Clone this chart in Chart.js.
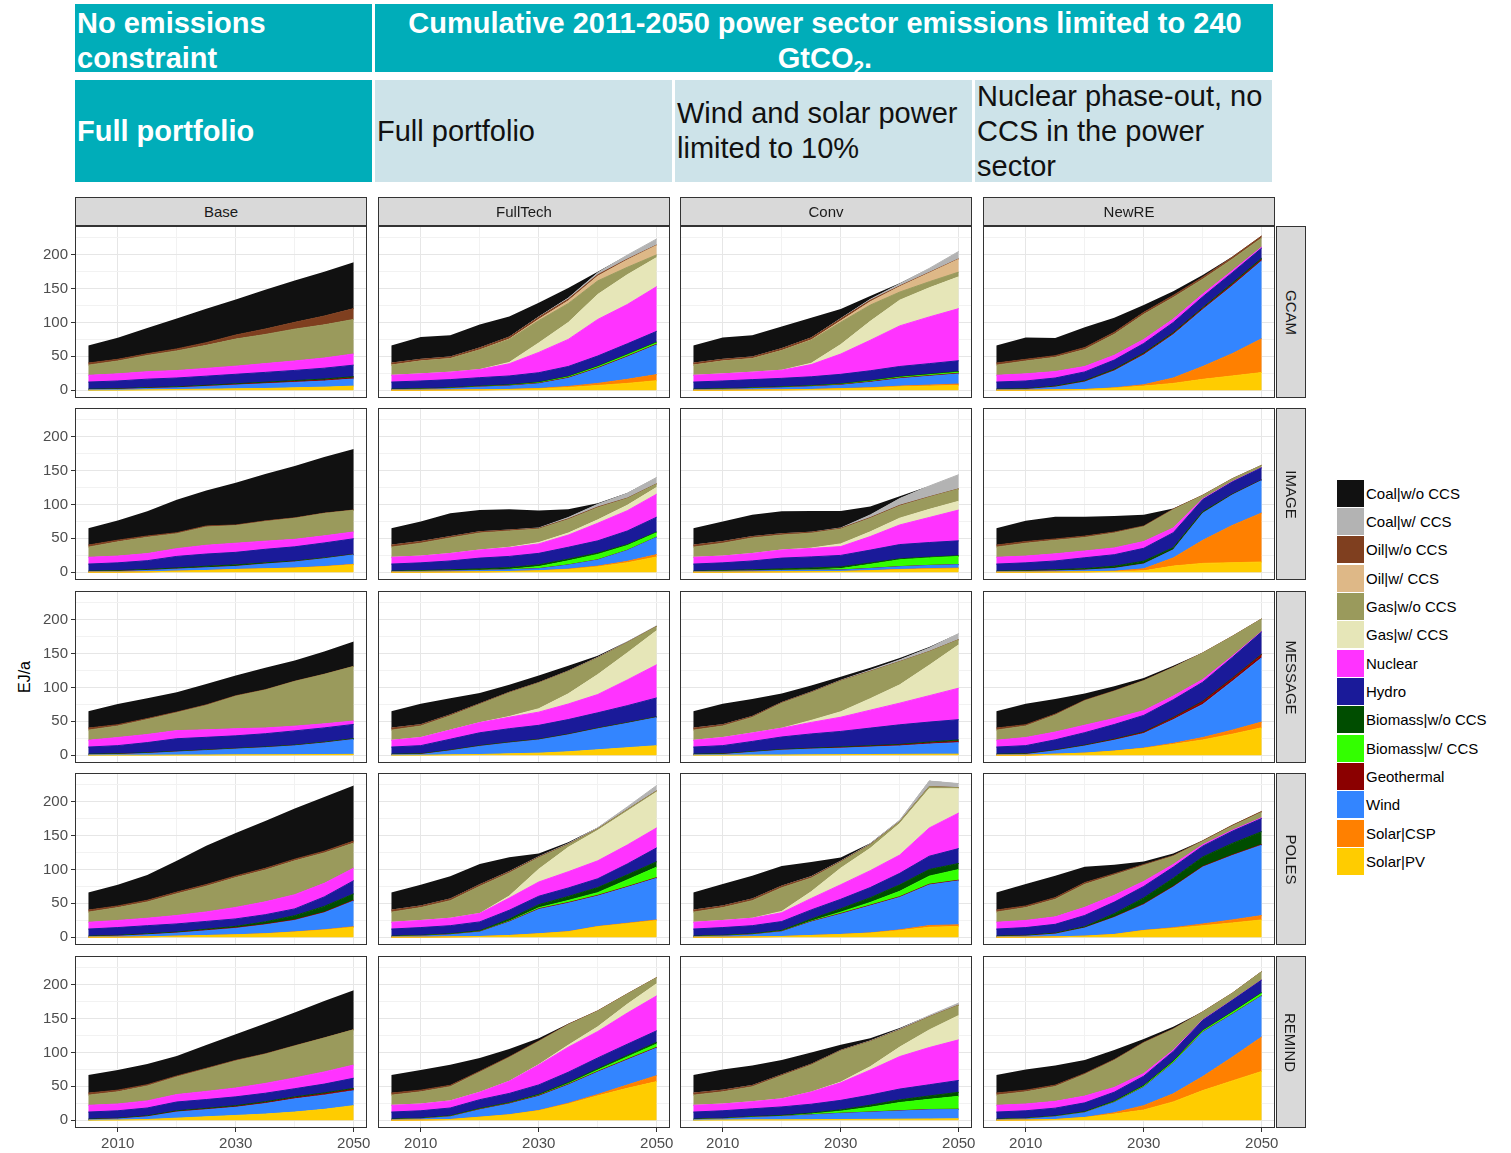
<!DOCTYPE html>
<html>
<head>
<meta charset="utf-8">
<script src="https://cdn.jsdelivr.net/npm/chart.js@4.4.1/dist/chart.umd.min.js"></script>
<style>
  body { margin: 0; width: 1511px; height: 1153px; background: #fff; position: relative; overflow: hidden;
         font-family: "Liberation Sans", Arial, sans-serif; }
  canvas { position: absolute; }
  .hd { position: absolute; box-sizing: border-box; font-size: 29px; padding-left: 2px; white-space: nowrap; line-height: 35px; }
  .teal { background: #00ADB9; color: #fff; font-weight: bold; }
  .light { background: #CDE3E9; color: #111; }
  .mid { display: flex; align-items: center; }
  .hd sub { font-size: 19px; line-height: 0; vertical-align: -6px; }
  .strip { position: absolute; box-sizing: border-box; background: #D9D9D9; border: 1px solid #333;
           color: #1A1A1A; font-size: 15px; display: flex; align-items: center; justify-content: center; }
  .vtxt { transform: rotate(90deg); white-space: nowrap; }
  .key { position: absolute; width: 27px; height: 27px; }
  .lab { position: absolute; font-size: 15px; color: #000; line-height: 27px; white-space: nowrap; }
</style>
</head>
<body>
<div class="hd teal" style="left:75px;top:4px;width:297px;height:68px;padding-top:2px">No emissions<br>constraint</div>
<div class="hd teal" style="left:375px;top:4px;width:898px;height:68px;padding-top:2px;text-align:center">Cumulative 2011-2050 power sector emissions limited to 240<br>GtCO<sub>2</sub>.</div>
<div class="hd teal mid" style="left:75px;top:80px;width:297px;height:102px">Full portfolio</div>
<div class="hd light mid" style="left:375px;top:80px;width:297px;height:102px">Full portfolio</div>
<div class="hd light mid" style="left:675px;top:80px;width:297px;height:102px">Wind and solar power<br>limited to 10%</div>
<div class="hd light mid" style="left:975px;top:80px;width:297px;height:102px">Nuclear phase-out, no<br>CCS in the power<br>sector</div>
<div style="position:absolute;left:25px;top:677px;transform:translate(-50%,-50%) rotate(-90deg);font-size:16px;color:#000">EJ/a</div>

<script>
const YEARS = [2005, 2010, 2015, 2020, 2025, 2030, 2035, 2040, 2045, 2050];
const SERIES = ['Coal|w/o CCS', 'Coal|w/ CCS', 'Oil|w/o CCS', 'Oil|w/ CCS', 'Gas|w/o CCS', 'Gas|w/ CCS',
  'Nuclear', 'Hydro', 'Biomass|w/o CCS', 'Biomass|w/ CCS', 'Geothermal', 'Wind', 'Solar|CSP', 'Solar|PV'];
const COLORS = ['#111111', '#B3B3B3', '#7F3F1F', '#DEB887', '#9A9A5C', '#E6E6B8',
  '#FF33FF', '#1A1A99', '#004D00', '#33FF00', '#8B0000', '#3385FF', '#FF8000', '#FFCC00'];
const SCENARIOS = ['Base', 'FullTech', 'Conv', 'NewRE'];
const MODELS = ['GCAM', 'IMAGE', 'MESSAGE', 'POLES', 'REMIND'];
const X_LABELS = [2010, 2030, 2050];
const Y_LABELS = [0, 50, 100, 150, 200];
const Z = [0, 0, 0, 0, 0, 0, 0, 0, 0, 0];

// rows follow SERIES order: coal, coal ccs, oil, oil ccs, gas, gas ccs, nuclear, hydro, bio, bio ccs, geo, wind, csp, pv
const GCAM_Base = [
  [26, 32, 38, 45, 50, 52.5, 58, 62, 65.5, 68.5], Z,
  [3, 2.5, 2.5, 3, 4, 6, 8, 10, 13, 16], Z,
  [15, 19, 24, 29, 34, 40, 43, 47, 49, 51], Z,
  [10, 10.5, 11, 11, 11.5, 12, 13, 14, 15, 16.5],
  [10.5, 11.5, 12.5, 13, 13.5, 14, 14.5, 15, 16, 17],
  [0.7, 0.8, 0.9, 1, 1.1, 1.2, 1.3, 1.5, 1.6, 1.8], Z,
  [0.3, 0.3, 0.4, 0.5, 0.6, 0.8, 1, 1.2, 1.4, 1.7],
  [0.5, 1, 2, 2.5, 4, 5.5, 7, 8, 9, 10.5], Z,
  [0, 0, 0.5, 1, 1.5, 2, 2.5, 3.5, 4.5, 6]];
const GCAM_FullTech = [
  [26, 33, 32, 34.5, 30.5, 21, 15, 1.5, 0, 0],
  [0, 0, 0, 0, 0, 0.5, 1.5, 3, 6, 9],
  [3, 2.5, 2.5, 3, 3, 3, 2.5, 2, 1, 0.5],
  [0, 0, 0, 0, 0.5, 2, 4, 7, 11, 14],
  [15, 19, 20, 29, 34, 33, 28, 20, 11, 4],
  [0, 0, 0, 0, 2, 14, 25, 37, 44, 43],
  [10, 10.5, 11, 12, 18, 30, 40, 54, 58, 66],
  [10.5, 11.5, 12, 12.5, 13, 14, 14.5, 15, 15.5, 16],
  [0.7, 0.8, 0.9, 1, 1, 1, 1, 1, 1, 1],
  [0, 0, 0, 0, 0.2, 0.5, 1, 1.5, 2, 2],
  [0.3, 0.3, 0.4, 0.5, 0.6, 0.8, 1, 1, 1, 1],
  [0.5, 1, 2, 4, 5, 7, 12, 22, 33, 44],
  [0, 0, 0, 0, 0.2, 0.5, 1.5, 3, 6, 9],
  [0, 0, 0.3, 0.5, 1, 2, 4, 7, 10, 14]];
const GCAM_Conv = [
  [26, 32.4, 31.9, 32.5, 29.7, 14, 5, 1, 0, 0],
  [0, 0, 0, 0, 0, 0.5, 1.5, 3, 6, 11],
  [3, 2.5, 2.5, 3, 3, 3, 2, 1, 0.7, 0.5],
  [0, 0, 0, 0, 0.5, 2, 5, 8, 13, 19],
  [15, 19, 20, 29, 34, 33, 24, 12, 9, 7],
  [0, 0, 0, 0, 2, 14, 28, 38, 43, 47],
  [10, 10.5, 11, 12, 18, 30, 45, 60, 69, 77],
  [10.5, 11.5, 12, 12.5, 13, 14, 14.5, 15, 15.5, 16],
  [0.7, 0.8, 0.9, 1, 1, 1, 1, 1, 1, 1],
  [0, 0, 0, 0, 0.1, 0.3, 0.6, 1, 1.2, 1.5],
  [0.3, 0.3, 0.4, 0.5, 0.6, 0.8, 1, 1, 1, 1],
  [0.5, 1, 2, 3, 4, 5, 8, 11, 13, 15],
  [0, 0, 0, 0, 0.1, 0.3, 0.6, 1, 1.5, 2],
  [0, 0, 0.3, 0.5, 1, 2, 3, 5, 6, 7]];
const GCAM_NewRE = [
  [26, 32.4, 26, 30, 21.5, 11, 6, 3, 0.5, 0], Z,
  [3, 2.5, 2.5, 3, 3, 3, 3, 3, 3, 3], Z,
  [15, 19, 21, 25, 31, 37, 32, 22, 17, 13.5], Z,
  [10, 10.5, 9.5, 8, 7, 6, 5, 4, 3, 1.5],
  [10.5, 11.5, 12, 13, 13.5, 14, 15, 16, 15.5, 15],
  [0.7, 0.8, 1, 1.3, 1.5, 1.5, 1.5, 1.5, 2, 2], Z,
  [0.3, 0.3, 0.5, 0.7, 1, 1.5, 1.5, 1.5, 2, 2],
  [0.5, 1, 4, 11, 25, 44, 64, 84, 100, 115],
  [0, 0, 0, 0, 0.5, 2, 8, 19, 33, 50],
  [0, 0, 0.5, 1, 3, 6, 10, 16, 21, 26]];

const IMAGE_Base = [
  [25, 29.2, 36.5, 48.7, 52.2, 62.2, 69.2, 76.7, 82.7, 90.1], Z,
  [3, 2.5, 2, 1.5, 1.5, 1, 1, 0.8, 0.6, 0.5], Z,
  [15, 21, 24, 22, 27, 26, 29, 31, 33, 32], Z,
  [10, 10, 10.5, 11.5, 13, 13.5, 12, 11, 10.5, 10],
  [10.5, 11.5, 13, 17, 18, 18.5, 20, 21, 22, 23],
  [0.7, 1, 1.2, 1.5, 2, 2, 1.5, 1, 1, 0.5], Z,
  [0.3, 0.3, 0.3, 0.3, 0.3, 0.3, 0.3, 0.3, 0.3, 0.3],
  [0.5, 1, 2, 3, 4, 4.5, 7, 9, 11.5, 14],
  [0, 0, 0, 0, 0, 0, 0, 0.2, 0.4, 0.6],
  [0, 0, 0.5, 1.5, 2.5, 4, 5, 6, 8, 11]];
const IMAGE_FullTech = [
  [25, 29.7, 34.4, 32.2, 30.7, 25.7, 12.2, 1.7, 0.5, 0],
  [0, 0, 0, 0, 0, 0.5, 2, 4, 7, 9.5],
  [3, 2.5, 2, 2, 1.5, 1, 1, 1, 0.5, 0.3], Z,
  [15, 19, 23, 25, 24, 20, 20, 18, 10, 5],
  [0, 0, 0, 0, 0.5, 2, 3, 5, 8, 10],
  [10, 10, 11, 12, 13, 14, 18, 26, 30, 34],
  [10.5, 11.5, 13, 16, 16.5, 17, 17.5, 18, 20, 22],
  [0.7, 1, 1.5, 2, 2.5, 2.5, 2.5, 2, 1.5, 1],
  [0, 0, 0, 0, 0.5, 3, 6, 8, 7, 6.5],
  [0.3, 0.3, 0.3, 0.3, 0.3, 0.3, 0.3, 0.3, 0.3, 0.3],
  [0.5, 1, 1.5, 2, 2.5, 3, 6, 9, 16, 25.5],
  [0, 0, 0, 0, 0, 0, 0.5, 1, 2, 3.5],
  [0, 0, 0.3, 0.5, 1, 2, 4, 8, 14, 22.5]];
const IMAGE_Conv = [
  [25, 29.7, 32.4, 33.2, 31.4, 25.2, 12.4, 3.2, 0, 0],
  [0, 0, 0, 0, 0, 0.5, 4, 10, 16, 21],
  [3, 2.5, 2, 2, 1.5, 1, 1, 1, 0.5, 0.3], Z,
  [15, 19, 23, 22, 22, 22, 20, 18, 18, 18],
  [0, 0, 0, 0, 0.5, 4, 7, 10, 12, 13],
  [10, 10, 11, 12, 12.5, 13, 20, 29, 37, 45.5],
  [10.5, 11.5, 13, 16, 16.5, 17, 19, 21, 21.5, 22],
  [0.7, 1, 1.5, 2, 2.5, 2.5, 2, 1.5, 1.2, 1],
  [0, 0, 0, 0, 0.5, 2, 6, 10, 11, 12],
  [0.3, 0.3, 0.3, 0.3, 0.3, 0.3, 0.3, 0.3, 0.3, 0.3],
  [0.5, 1, 1.5, 2, 2, 2, 3, 4, 4.5, 5],
  [0, 0, 0, 0, 0, 0, 0.3, 0.5, 0.8, 1],
  [0, 0, 0.3, 0.5, 0.8, 1, 2, 3.5, 4.5, 5]];
const IMAGE_NewRE = [
  [25, 30.7, 32.9, 28.7, 23.7, 16.7, 0.7, 0, 0, 0], Z,
  [3, 2.5, 2, 2, 1.5, 1, 1, 0.5, 0.3, 0.2], Z,
  [15, 19, 20, 20, 22, 22, 27, 5, 4, 3.5], Z,
  [10, 10, 10.5, 10, 10, 10, 7, 1, 0.5, 0],
  [10.5, 11.5, 13, 16, 17, 19, 22, 18, 18, 18],
  [0.7, 1, 1.5, 2, 3, 4, 3, 2, 1, 0.5], Z,
  [0.3, 0.3, 0.3, 0.3, 0.3, 0.3, 0.3, 0.3, 0.3, 0.3],
  [0.5, 1, 1.5, 2.5, 4, 7, 12, 40, 45, 48],
  [0, 0, 0, 0, 0.5, 3, 12, 34, 55, 72.5],
  [0, 0, 0.3, 0.5, 1, 2, 9, 13, 14, 15]];

const MESSAGE_Base = [
  [25, 30.4, 29.9, 29.2, 30.6, 29.7, 32.2, 30.6, 33.3, 36.7], Z,
  [3, 2, 1.5, 1, 1, 0.8, 0.6, 0.5, 0.4, 0.3], Z,
  [15, 17, 22, 26.5, 36, 48, 56, 66, 73, 80.5], Z,
  [10, 12, 12, 12, 11, 10.5, 8.5, 7, 6, 5],
  [10.5, 12, 15, 18.5, 18.5, 18.5, 19.5, 21, 21, 21],
  [0.7, 0.8, 0.8, 0.8, 0.8, 0.8, 0.8, 0.8, 1, 1], Z,
  [0.3, 0.3, 0.3, 0.3, 0.3, 0.3, 0.3, 0.3, 0.3, 0.3],
  [0.5, 1, 2.5, 4.5, 6.5, 8.5, 10.5, 13, 17, 22], Z,
  [0, 0, 0, 0.2, 0.3, 0.5, 0.6, 0.8, 1, 1.2]];
const MESSAGE_FullTech = [
  [25, 30.9, 24.4, 15.9, 11.1, 10.4, 7.6, 2.5, 0.9, 0],
  [0, 0, 0, 0, 0, 0, 0.3, 0.5, 0.7, 1],
  [3, 2, 1.5, 1, 0.8, 0.6, 0.5, 0.4, 0.3, 0.2], Z,
  [15, 17, 21, 27, 35, 38, 33, 24.5, 15, 6],
  [0, 0, 0, 0, 1, 5, 15, 29.5, 40, 50.5],
  [10, 12, 13.5, 15, 17, 19.5, 23, 27, 38, 49],
  [10.5, 12, 16, 19, 20, 20.5, 21.5, 22.5, 25, 28],
  [0.7, 0.8, 0.8, 0.8, 0.8, 0.8, 0.8, 0.8, 0.8, 0.8], Z,
  [0.3, 0.3, 0.3, 0.3, 0.3, 0.3, 0.3, 0.3, 0.3, 0.3],
  [0.5, 1, 6, 12, 16, 19.5, 25, 31, 36, 41.5], Z,
  [0, 0, 0.5, 1, 2, 3, 5, 8, 11, 14]];
const MESSAGE_Conv = [
  [25, 30.9, 25.7, 13.1, 9.5, 5, 3.5, 2.8, 1.8, 0],
  [0, 0, 0, 0, 0.3, 0.5, 1.5, 2.5, 5, 9],
  [3, 2, 1.5, 1, 0.8, 0.6, 0.5, 0.4, 0.3, 0.2], Z,
  [15, 17, 23, 37, 41, 45.5, 40, 34, 20, 7.5],
  [0, 0, 0, 0, 3, 8, 17, 27, 45, 64],
  [10, 12, 12.5, 13, 17, 21, 26.5, 32, 39, 46.5],
  [10.5, 12, 15, 18.5, 21, 23, 26, 29, 29.5, 30],
  [0.7, 0.8, 0.8, 0.8, 0.9, 1, 1, 1, 1.5, 2], Z,
  [0.3, 0.3, 0.3, 0.3, 0.5, 0.8, 1, 1.2, 1.5, 2],
  [0.5, 1, 4, 7, 8.5, 9.5, 11, 12.5, 15, 17], Z,
  [0, 0, 0.2, 0.3, 0.5, 0.8, 1, 1.2, 1.4, 1.5]];
const MESSAGE_NewRE = [
  [25, 30.9, 22.3, 9.7, 6.9, 3.6, 2.2, 0, 0, 0], Z,
  [3, 2, 1.5, 1, 0.8, 0.6, 0.5, 0.4, 0.3, 0.2], Z,
  [15, 17, 25, 36, 40, 44, 42, 39, 29, 18.5], Z,
  [10, 12, 11.5, 11, 9, 7, 5.5, 4, 2, 0.5],
  [10.5, 12, 15, 18.5, 21.5, 24.5, 26, 28, 30.5, 33],
  [0.7, 0.8, 0.8, 0.8, 0.8, 0.8, 0.8, 0.8, 0.8, 0.8], Z,
  [0.3, 0.3, 0.4, 0.5, 1, 1.5, 2.5, 4, 4, 4.5],
  [0.5, 1, 5, 10.5, 16, 21.5, 35, 49, 72, 95],
  [0, 0, 0, 0, 0, 0.5, 1.5, 3.5, 6, 8.5],
  [0, 0, 1.5, 3, 6, 10, 16, 22.5, 31, 40.5]];

const POLES_Base = [
  [26, 31.3, 37.5, 46.4, 57.2, 63.5, 69.9, 74.7, 80, 82], Z,
  [3, 2.5, 2.5, 2.5, 2.5, 2.5, 2.5, 2.5, 2.5, 3], Z,
  [15, 19, 24, 32, 38, 44, 47, 50, 45, 37], Z,
  [10, 10.5, 11, 12.5, 14, 17, 19, 21, 20, 18.5],
  [10.5, 11.5, 12, 12, 11.5, 11, 10.5, 10, 14, 19.5],
  [0.7, 0.8, 1, 1, 1.5, 2, 3.5, 6, 8.5, 9.5], Z,
  [0.3, 0.4, 0.5, 0.6, 0.8, 1, 1, 1, 1, 1],
  [0.5, 1.5, 3, 4.5, 7, 9.5, 13, 17, 25, 38],
  [0, 0, 0, 0, 0, 0, 0.2, 0.3, 0.5, 1],
  [0, 0, 0.5, 1.5, 2.5, 3.5, 5, 7.5, 10.5, 14.5]];
const POLES_FullTech = [
  [26, 31.3, 33.5, 30.4, 21, 4.5, 2, 0.4, 0, 0],
  [0, 0, 0, 0, 0.2, 0.5, 1, 1.5, 4, 8],
  [3, 2.5, 2.5, 2.5, 2, 1, 0.5, 0.3, 0.3, 0.2], Z,
  [15, 19, 26, 40, 34, 17, 4, 2, 2, 1.5],
  [0, 0, 0, 0, 3, 19, 36, 45, 50, 53],
  [10, 10.5, 11, 12.5, 18, 21, 24, 26.5, 28, 29.5],
  [10.5, 11.5, 12, 13, 13, 12.5, 12.5, 13, 16, 20.5],
  [0.7, 0.8, 1, 1.5, 3, 4.5, 6, 7.5, 7.5, 8],
  [0, 0, 0, 0, 0.5, 1.5, 3, 4, 10, 15.5],
  [0.3, 0.4, 0.5, 0.6, 0.8, 1, 1, 1, 1, 1],
  [0.5, 1.5, 3, 6.5, 20, 36, 42, 45, 53, 61.5],
  [0, 0, 0, 0, 0, 0, 0.2, 0.3, 0.6, 1],
  [0, 0, 0.5, 1, 2.5, 5, 8, 15.5, 20, 24.5]];
const POLES_Conv = [
  [26, 32.2, 34.2, 29.4, 21.4, 5.1, 1, 0.5, 0.4, 0],
  [0, 0, 0, 0, 0.3, 0.5, 1, 2, 8, 6],
  [3, 2.5, 2.5, 2.5, 2, 1, 0.5, 0.3, 0.3, 0.2], Z,
  [15, 19, 26, 35, 20, 9, 5, 2.5, 3, 1.5],
  [0, 0, 0, 2, 10, 24.5, 33, 46.6, 58, 35.8],
  [10, 10.5, 11, 13, 17, 21.5, 25, 27, 41.7, 52.5],
  [10.5, 11.5, 12, 13, 13.5, 14, 15, 17, 19.6, 22],
  [0.7, 0.8, 1, 1.5, 3, 5, 7, 9.5, 9.8, 9],
  [0, 0, 0, 0, 0.5, 2, 4, 8, 12, 15.7],
  [0.3, 0.4, 0.5, 0.6, 0.8, 1, 1, 1, 1, 1],
  [0.5, 1.5, 3, 7, 20, 30, 40, 48, 60, 65],
  [0, 0, 0, 0, 0, 0, 0.3, 1, 2.5, 2.5],
  [0, 0, 0.5, 1, 2.5, 4, 6, 9.8, 14.7, 15.7]];
const POLES_NewRE = [
  [26, 32.2, 32.2, 23.4, 13.2, 4.4, 3, 0.5, 0.5, 0], Z,
  [3, 2.5, 2.5, 2.5, 2, 1.5, 1, 1, 1.2, 1.5], Z,
  [15, 19, 26, 34, 30, 23.5, 12, 5, 6, 8], Z,
  [10, 10.5, 11, 12, 10, 7.4, 4, 2, 1.5, 1],
  [10.5, 11.5, 13, 16.5, 17, 17, 16.5, 16, 18, 19.5],
  [0.7, 0.8, 1, 1.5, 5, 9, 12, 14, 17, 19], Z,
  [0.3, 0.4, 0.5, 0.6, 0.8, 1, 1, 1, 1, 1],
  [0.5, 1.5, 4, 12, 25, 38, 60, 84, 95, 104],
  [0, 0, 0, 0, 0, 0.2, 1, 2.5, 4.5, 6.4],
  [0, 0, 0.5, 1.5, 4, 9.8, 13, 17, 21, 25.5]];

const REMIND_Base = [
  [26.8, 29.6, 30.5, 29.6, 34.3, 38.5, 44.9, 48.9, 54.3, 58.2], Z,
  [3, 2.5, 2, 1.5, 1.2, 1, 0.8, 0.6, 0.4, 0.3], Z,
  [15, 18, 22, 26, 33, 40, 43, 47, 50, 52], Z,
  [10, 10, 10.5, 11, 12, 13, 14.5, 16, 18, 19.5],
  [10.5, 11, 11.5, 13, 13, 13, 12.5, 12, 13, 15],
  [0.7, 0.8, 1, 1.2, 1.2, 1.5, 1.6, 1.5, 1.5, 1.5], Z,
  [0.3, 0.3, 0.5, 0.7, 0.8, 1, 1.2, 1.5, 1.8, 2],
  [0.5, 1.5, 4, 9, 10.5, 12, 15.5, 19.5, 21, 22], Z,
  [0, 0.3, 1, 3, 5, 7, 9, 12, 16, 21.5]];
const REMIND_FullTech = [
  [26.8, 29.6, 30.5, 19.7, 11.3, 3.9, 1, 0, 0, 0], Z,
  [3, 2.5, 2, 1.5, 1.2, 1, 0.8, 0.6, 0.4, 0.3], Z,
  [15, 18, 21, 29.5, 35, 34, 30, 23, 15, 8.8],
  [0, 0, 0, 0, 0, 0.5, 3, 7, 13, 18],
  [10, 10, 10.5, 11, 18, 29.5, 37, 39, 46, 51.6],
  [10.5, 11, 11.5, 13, 13.5, 14, 15, 16, 16.5, 17],
  [0.7, 0.8, 1, 1.2, 1.2, 1.5, 1.8, 2, 2.2, 2.5],
  [0, 0, 0, 0, 0, 0.3, 1, 2, 3.5, 5],
  [0.3, 0.3, 0.5, 0.7, 0.8, 1, 1, 1, 1, 1],
  [0.5, 1.5, 4, 11, 16, 21, 27, 33, 37, 40.8],
  [0, 0, 0, 0, 0, 0.3, 1, 2, 5, 8.8],
  [0, 0.3, 1, 4.4, 8, 14, 24, 36, 47, 57]];
const REMIND_Conv = [
  [26.8, 30.3, 29.3, 21.9, 17.2, 8.2, 3.8, 1.5, 0, 0],
  [0, 0, 0, 0, 0, 0.2, 0.5, 1, 2, 3],
  [3, 2.5, 2, 1.5, 1.2, 0.8, 0.6, 0.5, 0.4, 0.3], Z,
  [15, 18, 22, 34, 40, 46, 37, 25, 19, 15],
  [0, 0, 0, 0, 0, 1, 5, 14, 26, 36],
  [10, 10, 10.5, 12, 18, 26, 37, 48, 55, 60],
  [10.5, 11, 11.5, 12.5, 13, 14, 15, 16, 16.5, 17.5],
  [0.7, 0.8, 1, 1.3, 1.5, 2, 3, 4, 5, 6],
  [0, 0, 0, 0, 1, 3, 7, 12, 15, 19],
  [0.3, 0.3, 0.3, 0.3, 0.3, 0.3, 0.4, 0.5, 0.5, 0.5],
  [0.5, 1.5, 3.5, 5, 7, 9, 10.5, 12, 13.5, 13.7], Z,
  [0, 0.3, 0.5, 0.5, 0.8, 1, 1.2, 1.5, 1.8, 2]];
const REMIND_NewRE = [
  [26.8, 30.3, 28.8, 19.9, 14.1, 5, 3, 0, 0, 0], Z,
  [3, 2.5, 2, 1.5, 1.2, 1, 0.8, 0.5, 0.3, 0.2], Z,
  [15, 18, 22, 32, 40, 45, 30.7, 11.5, 10, 12.3], Z,
  [10, 10, 10, 10, 7, 4, 2, 0.5, 0.3, 0],
  [10.5, 11, 11.5, 13, 13, 13.5, 14, 15, 17, 18.7],
  [0.7, 0.8, 1, 1.3, 1.5, 1.5, 1.5, 1, 1, 1],
  [0, 0, 0, 0, 0.5, 1, 1.5, 1.5, 2.5, 3.4],
  [0.3, 0.3, 0.3, 0.3, 0.4, 0.5, 0.5, 0.5, 0.5, 0.5],
  [0.5, 1.5, 4, 7, 15, 27, 45, 65.3, 63, 60.5],
  [0, 0, 0, 0, 2, 6.5, 12, 20.7, 35, 51],
  [0, 0.3, 1, 4, 9, 15, 27, 43.7, 58, 72]];

const PANELS = {
  GCAM: [GCAM_Base, GCAM_FullTech, GCAM_Conv, GCAM_NewRE],
  IMAGE: [IMAGE_Base, IMAGE_FullTech, IMAGE_Conv, IMAGE_NewRE],
  MESSAGE: [MESSAGE_Base, MESSAGE_FullTech, MESSAGE_Conv, MESSAGE_NewRE],
  POLES: [POLES_Base, POLES_FullTech, POLES_Conv, POLES_NewRE],
  REMIND: [REMIND_Base, REMIND_FullTech, REMIND_Conv, REMIND_NewRE]
};

// layout of the facet grid
const PX = [75, 378, 680, 983], PY = [226, 408, 591, 773, 956];
const PW = 292, PH = 172;
const MAJOR = '#E6E6E6', MINOR = '#F2F2F2';
const tickFont = { family: 'Liberation Sans', size: 15 };

const panelBorder = {
  id: 'panelBorder',
  afterDraw(chart) {
    const a = chart.chartArea, c = chart.ctx;
    c.save();
    c.strokeStyle = '#333';
    c.lineWidth = 1;
    c.strokeRect(a.left + 0.5, a.top + 0.5, a.right - a.left - 1, a.bottom - a.top - 1);
    c.restore();
  }
};

function makePanel(row, col, rows) {
  const isLeft = col === 0, isBottom = row === MODELS.length - 1;
  const L = isLeft ? 52 : 10, R = 12, T = 6, B = isBottom ? 32 : 6;
  const cv = document.createElement('canvas');
  cv.width = L + PW + R;
  cv.height = T + PH + B;
  cv.style.left = (PX[col] - L) + 'px';
  cv.style.top = (PY[row] - T) + 'px';
  document.body.appendChild(cv);

  // bottom of the stack first: Solar|PV ... Coal|w/o CCS
  const datasets = [];
  for (let k = SERIES.length - 1; k >= 0; k--) {
    const vals = rows[k];
    const empty = vals.every(v => v === 0);
    datasets.push({
      label: SERIES[k],
      data: YEARS.map((yr, i) => ({ x: yr, y: vals[i] })),
      backgroundColor: COLORS[k],
      borderColor: empty ? 'rgba(0,0,0,0)' : COLORS[k],
      borderWidth: k === 0 ? 0 : 1,
      fill: datasets.length ? '-1' : 'origin',
      pointRadius: 0,
      tension: 0
    });
  }

  new Chart(cv, {
    type: 'line',
    data: { datasets },
    plugins: [panelBorder],
    options: {
      responsive: false,
      animation: false,
      events: [],
      layout: { autoPadding: false, padding: { left: isLeft ? 0 : L, right: R, top: T, bottom: isBottom ? 0 : B } },
      plugins: { legend: { display: false }, tooltip: { enabled: false } },
      scales: {
        x: {
          type: 'linear', min: 2002.75, max: 2052.25,
          afterBuildTicks: sc => { sc.ticks = [2010, 2020, 2030, 2040, 2050].map(v => ({ value: v })); },
          afterFit: sc => { sc.height = isBottom ? B : 0; sc.paddingLeft = 0; sc.paddingRight = 0; },
          border: { display: false },
          grid: {
            color: c => X_LABELS.includes(c.tick.value) ? MAJOR : MINOR,
            lineWidth: 1,
            drawTicks: isBottom, tickLength: 4,
            tickColor: c => X_LABELS.includes(c.tick.value) ? '#333' : 'rgba(0,0,0,0)'
          },
          ticks: {
            display: isBottom, maxRotation: 0, autoSkip: false, padding: 3,
            font: tickFont, color: '#4D4D4D',
            callback: v => X_LABELS.includes(v) ? String(v) : ''
          }
        },
        y: {
          stacked: true, min: -11.55, max: 242.55,
          afterBuildTicks: sc => { sc.ticks = [0, 25, 50, 75, 100, 125, 150, 175, 200, 225].map(v => ({ value: v })); },
          afterFit: sc => { sc.width = isLeft ? L : 0; sc.paddingTop = 0; sc.paddingBottom = 0; },
          border: { display: false },
          grid: {
            color: c => Y_LABELS.includes(c.tick.value) ? MAJOR : MINOR,
            lineWidth: 1,
            drawTicks: isLeft, tickLength: 4,
            tickColor: c => Y_LABELS.includes(c.tick.value) ? '#333' : 'rgba(0,0,0,0)'
          },
          ticks: {
            display: isLeft, padding: 3, autoSkip: false,
            font: tickFont, color: '#4D4D4D',
            callback: v => Y_LABELS.includes(v) ? String(v) : ''
          }
        }
      }
    }
  });
}

MODELS.forEach((m, r) => PANELS[m].forEach((rows, c) => makePanel(r, c, rows)));

// facet strips
SCENARIOS.forEach((s, c) => {
  const d = document.createElement('div');
  d.className = 'strip';
  d.style.cssText = `left:${PX[c]}px;top:197px;width:${PW}px;height:29px`;
  d.textContent = s;
  document.body.appendChild(d);
});
MODELS.forEach((m, r) => {
  const d = document.createElement('div');
  d.className = 'strip';
  d.style.cssText = `left:1276px;top:${PY[r]}px;width:30px;height:${PH}px`;
  d.innerHTML = `<span class="vtxt">${m}</span>`;
  document.body.appendChild(d);
});

// legend
SERIES.forEach((s, i) => {
  const top = Math.round(479.5 + i * 28.35);
  const k = document.createElement('div');
  k.className = 'key';
  k.style.cssText = `left:1337px;top:${top}px;background:${COLORS[i]}`;
  document.body.appendChild(k);
  const t = document.createElement('div');
  t.className = 'lab';
  t.style.cssText = `left:1366px;top:${top}px`;
  t.textContent = s;
  document.body.appendChild(t);
});
</script>
</body>
</html>
